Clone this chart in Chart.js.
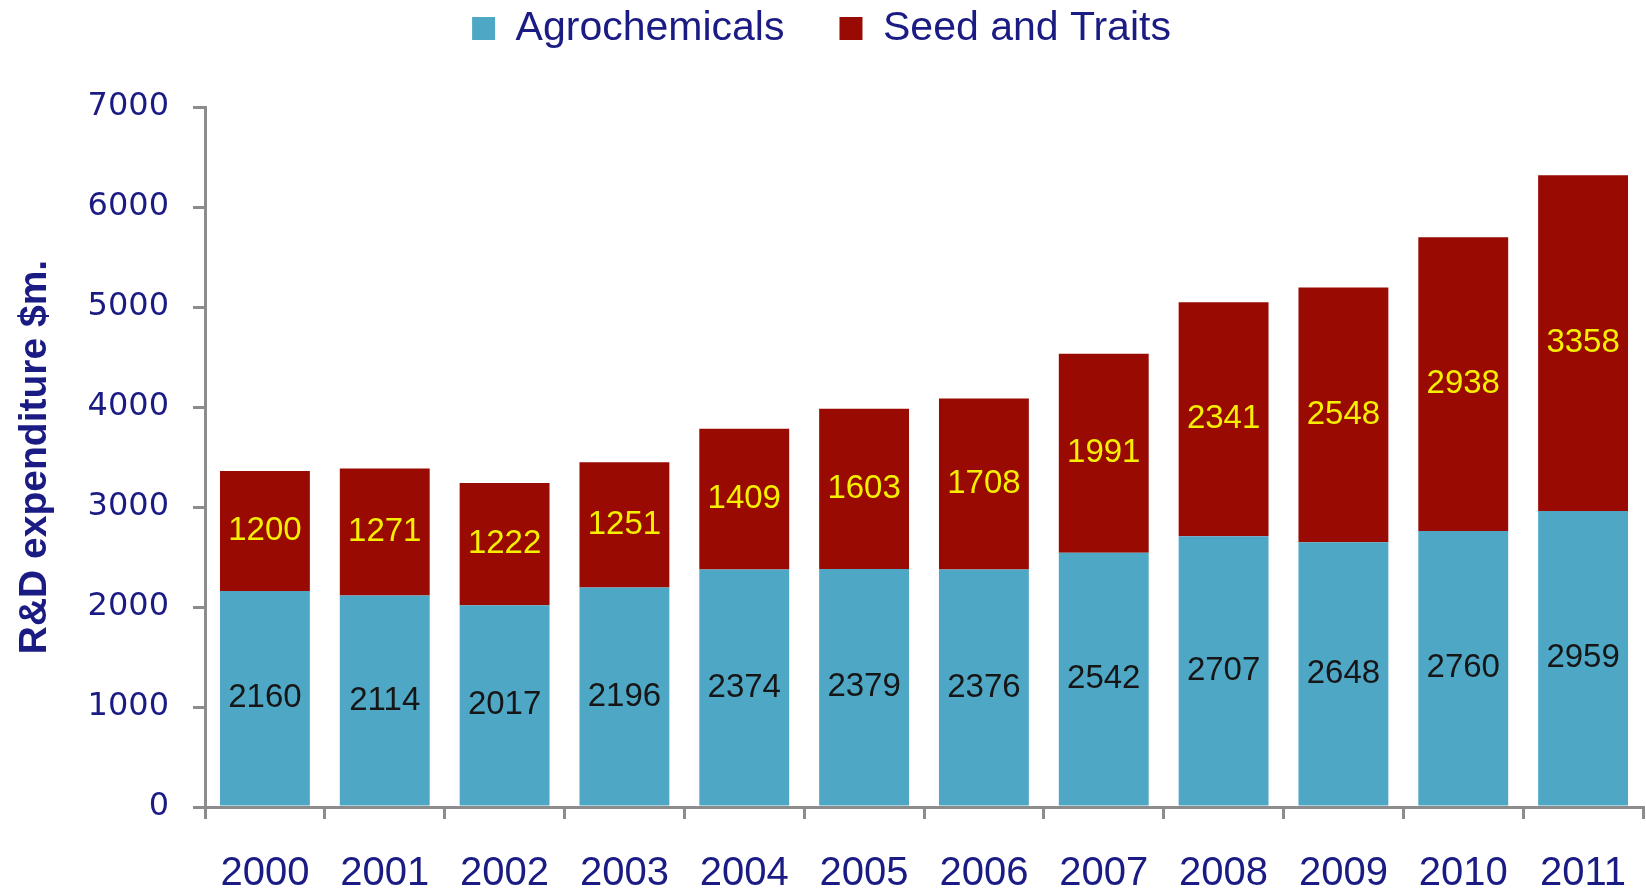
<!DOCTYPE html>
<html>
<head>
<meta charset="utf-8">
<script src="https://cdn.jsdelivr.net/npm/chart.js@4"></script>
<style>
  html, body { margin: 0; padding: 0; background: #ffffff; }
  #wrap { width: 1646px; height: 893px; }
</style>
</head>
<body>
<div id="wrap"><canvas id="myChart" width="1646" height="893"></canvas></div>
<script>
let years = ['2000', '2001', '2002', '2003', '2004', '2005', '2006', '2007', '2008', '2009', '2010', '2011'];
let agrochemicals = [2160, 2114, 2017, 2196, 2374, 2379, 2376, 2542, 2707, 2648, 2760, 2959];
let seedAndTraits = [1200, 1271, 1222, 1251, 1409, 1603, 1708, 1991, 2341, 2548, 2938, 3358];
let yTicks = [0, 1000, 2000, 3000, 4000, 5000, 6000, 7000];

let navy = '#1b1b84';
let axisGray = '#8c8c8c';

// labels in the middle of each bar segment
let barLabels = {
    id: 'barLabels',
    afterDatasetsDraw: (chart) => {
        let ctx = chart.ctx;
        ctx.save();
        ctx.font = '33px "Liberation Sans", Arial, sans-serif';
        ctx.textAlign = 'center';
        ctx.textBaseline = 'middle';
        chart.data.datasets.forEach((dataset, i) => {
            let meta = chart.getDatasetMeta(i);
            ctx.fillStyle = i === 0 ? '#161616' : '#f6f000';
            meta.data.forEach((bar, j) => {
                let mid = (bar.y + bar.base) / 2;
                ctx.fillText(dataset.data[j], bar.x, mid);
            });
        });
        ctx.restore();
    }
};

// leave more room under the legend than above it
let legendSpace = {
    id: 'legendSpace',
    afterInit: (chart) => {
        let legend = chart.legend;
        let fit = legend.fit.bind(legend);
        legend.fit = function () {
            fit();
            this.height += 48;
        };
    }
};

var ctx = document.getElementById('myChart').getContext('2d');

let myChart = new Chart(ctx, {
    type: 'bar',
    data: {
        labels: years,
        datasets: [{
            label: 'Agrochemicals',
            data: agrochemicals,
            backgroundColor: '#4fa7c6',
            barPercentage: 0.75,
            categoryPercentage: 1
        }, {
            label: 'Seed and Traits',
            data: seedAndTraits,
            backgroundColor: '#980a02',
            barPercentage: 0.75,
            categoryPercentage: 1
        }]
    },
    options: {
        responsive: false,
        animation: false,
        layout: {
            padding: { top: -47, right: 3, bottom: 0, left: 0 }
        },
        plugins: {
            tooltip: { enabled: false },
            legend: {
                position: 'top',
                labels: {
                    color: navy,
                    boxWidth: 23,
                    boxHeight: 23,
                    padding: 55,
                    font: { family: '"Liberation Sans", Arial, sans-serif', size: 41 }
                }
            }
        },
        scales: {
            x: {
                stacked: true,
                afterFit: (scale) => {
                    scale.height = 86;
                    scale.paddingLeft = 0;
                    scale.paddingRight = 0;
                },
                border: { color: axisGray, width: 3 },
                grid: {
                    offset: true,
                    drawOnChartArea: false,
                    color: axisGray,
                    lineWidth: 3,
                    tickLength: 12
                },
                ticks: {
                    color: navy,
                    padding: 31,
                    maxRotation: 0,
                    font: { family: '"Liberation Sans", Arial, sans-serif', size: 40 }
                }
            },
            y: {
                stacked: true,
                min: 0,
                max: 7000,
                afterFit: (scale) => { scale.width = 205; },
                afterBuildTicks: (scale) => {
                    scale.ticks = yTicks.map(v => ({ value: v }));
                },
                border: { color: axisGray, width: 3 },
                grid: {
                    drawOnChartArea: false,
                    color: axisGray,
                    lineWidth: 3,
                    tickLength: 12
                },
                ticks: {
                    color: navy,
                    padding: 24,
                    callback: (value) => String(value),
                    font: { family: '"DejaVu Sans", Verdana, sans-serif', size: 32 }
                },
                title: {
                    display: true,
                    text: 'R&D expenditure $m.',
                    color: navy,
                    padding: { top: 12, bottom: 0 },
                    font: { family: '"Liberation Sans", Arial, sans-serif', size: 39, weight: 'bold' }
                }
            }
        }
    },
    plugins: [barLabels, legendSpace]
});
</script>
</body>
</html>
